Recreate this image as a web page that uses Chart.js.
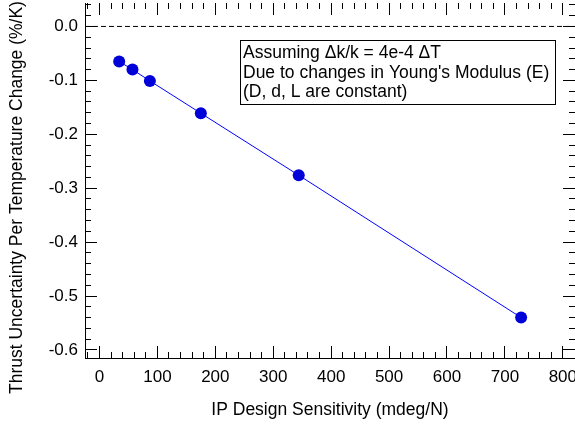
<!DOCTYPE html>
<html>
<head>
<meta charset="utf-8">
<title>Thrust uncertainty vs IP design sensitivity</title>
<script src="https://cdn.jsdelivr.net/npm/chart.js@4.4.1/dist/chart.umd.min.js"></script>
<style>
  html, body { margin: 0; padding: 0; background: #fff; }
  #wrap { width: 575px; height: 427px; }
</style>
</head>
<body>
<div id="wrap"><canvas id="chart"></canvas></div>
<script>
// data
const sensitivity = [34, 57, 87, 175, 344, 728];                        // mdeg/N
const uncertainty = [-0.065, -0.080, -0.101, -0.161, -0.276, -0.540];   // %/K

// axes
const xRange = [-25, 821];
const yRange = [-0.615, 0.0435];
const xMajorTicks = [0, 100, 200, 300, 400, 500, 600, 700, 800];
const yMajorTicks = [0.0, -0.1, -0.2, -0.3, -0.4, -0.5, -0.6];
const xMinorStep = 20;
const yMinorStep = 0.02;

const xTitle = 'IP Design Sensitivity (mdeg/N)';
const yTitle = 'Thrust Uncertainty Per Temperature Change (%/K)';
const noteLines = ['Assuming \u0394k/k = 4e-4 \u0394T', "Due to changes in Young's Modulus (E)", '(D, d, L are constant)'];

const black = '#000';
const fontFamily = "'Liberation Sans', Arial, Helvetica, sans-serif";
const tickFont = { family: fontFamily, size: 17 };
const titleFont = { family: fontFamily, size: 17.5 };

function stepTicks(lo, hi, step) {
    const out = [];
    for (let i = Math.ceil(lo / step - 1e-9); i * step <= hi + 1e-9; i++) {
        out.push(+(i * step).toFixed(4));
    }
    return out;
}

const xMinorTicks = stepTicks(xRange[0], 800, xMinorStep);
const yMinorTicks = stepTicks(yRange[0], yRange[1], yMinorStep);

// an axis that only draws inward tick marks (Igor-style frame)
function tickAxis(axis, position, range, values, len) {
    return {
        type: 'linear',
        axis: axis,
        position: position,
        weight: 0,
        min: range[0],
        max: range[1],
        afterBuildTicks: s => { s.ticks = values.map(v => ({ value: v })); },
        afterFit: s => {
            if (s.isHorizontal()) s.height = 0; else s.width = 0;
            s.paddingLeft = s.paddingRight = s.paddingTop = s.paddingBottom = 0;
        },
        grid: { drawOnChartArea: false, drawTicks: true, tickLength: -len, tickColor: black, tickWidth: 1 },
        border: { display: false },
        ticks: { display: false }
    };
}

// text box in the upper right
const notePlugin = {
    id: 'note',
    afterDatasetsDraw(chart) {
        const ctx = chart.ctx;
        ctx.save();
        ctx.fillStyle = '#fff';
        ctx.fillRect(240.5, 40.5, 315, 64);
        ctx.strokeStyle = black;
        ctx.lineWidth = 1;
        ctx.strokeRect(240.5, 40.5, 315, 64);
        ctx.fillStyle = black;
        ctx.font = "17.5px " + fontFamily;
        ctx.textBaseline = 'alphabetic';
        noteLines.forEach((line, i) => ctx.fillText(line, 243, 58 + i * 19.5));
        ctx.restore();
    }
};

new Chart(document.getElementById('chart'), {
    type: 'line',
    data: {
        datasets: [{
            label: 'zero',
            data: [{ x: xRange[0], y: 0 }, { x: xRange[1], y: 0 }],
            borderColor: black,
            borderWidth: 1,
            borderDash: [5, 3],
            pointRadius: 0
        }, {
            label: 'uncertainty',
            data: sensitivity.map((x, i) => ({ x: x, y: uncertainty[i] })),
            borderColor: '#0000ff',
            borderWidth: 1,
            pointRadius: 6,
            pointBorderWidth: 0,
            pointBackgroundColor: '#0000d8',
            pointBorderColor: '#0000d8'
        }]
    },
    options: {
        responsive: true,
        maintainAspectRatio: false,
        animation: false,
        layout: { autoPadding: false, padding: { top: 3, right: 0, bottom: 0, left: 0 } },
        plugins: { legend: { display: false }, tooltip: { enabled: false } },
        scales: {
            x: {
                type: 'linear',
                position: 'bottom',
                weight: 1,
                min: xRange[0],
                max: xRange[1],
                afterBuildTicks: s => { s.ticks = xMajorTicks.map(v => ({ value: v })); },
                afterFit: s => { s.height = 69; s.paddingLeft = s.paddingRight = 0; },
                grid: { drawOnChartArea: false, drawTicks: true, tickLength: -12, tickColor: black, tickWidth: 1 },
                border: { display: true, color: black, width: 1 },
                ticks: { color: black, font: tickFont, padding: 21, autoSkip: false, maxRotation: 0, callback: v => String(v) },
                title: { display: true, text: xTitle, color: black, font: titleFont, padding: { top: 0, bottom: 6 } }
            },
            xMinor: tickAxis('x', 'bottom', xRange, xMinorTicks, 6),
            xTop: tickAxis('x', 'top', xRange, xMajorTicks, 12),
            xTopMinor: tickAxis('x', 'top', xRange, xMinorTicks, 6),
            y: {
                type: 'linear',
                position: 'left',
                weight: 1,
                min: yRange[0],
                max: yRange[1],
                afterBuildTicks: s => { s.ticks = yMajorTicks.map(v => ({ value: v })); },
                afterFit: s => { s.width = 85; s.paddingTop = s.paddingBottom = 0; },
                grid: { drawOnChartArea: false, drawTicks: true, tickLength: -12, tickColor: black, tickWidth: 1 },
                border: { display: true, color: black, width: 1 },
                ticks: { color: black, font: tickFont, padding: 19, autoSkip: false, callback: v => v.toFixed(1) },
                title: { display: true, text: yTitle + '       ', color: black, font: titleFont, padding: { top: 7, bottom: 0 } }
            },
            yMinor: tickAxis('y', 'left', yRange, yMinorTicks, 6),
            yRight: tickAxis('y', 'right', yRange, yMajorTicks, 12),
            yRightMinor: tickAxis('y', 'right', yRange, yMinorTicks, 6)
        }
    },
    plugins: [notePlugin]
});
</script>
</body>
</html>
